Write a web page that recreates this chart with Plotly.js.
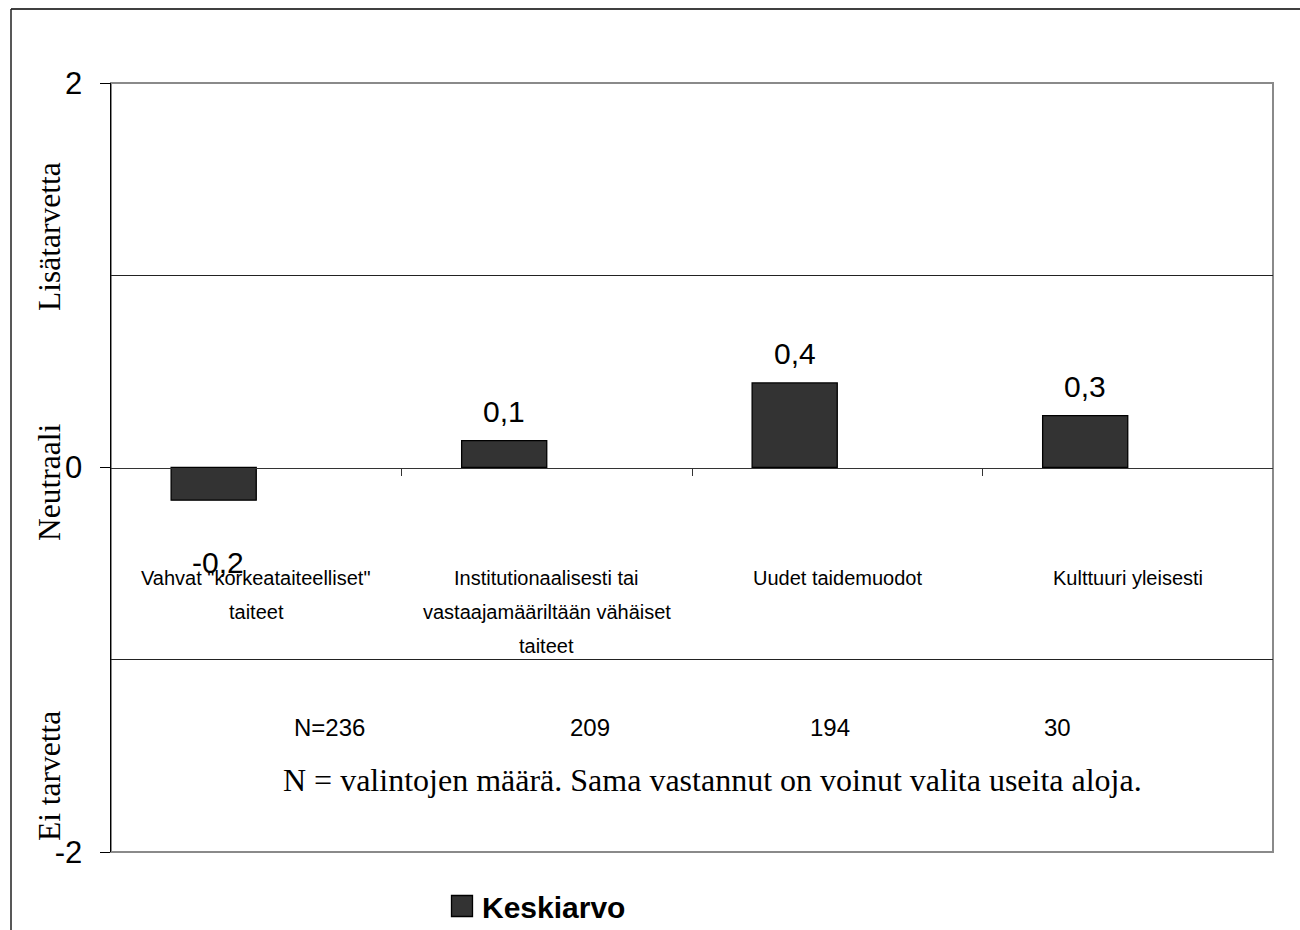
<!DOCTYPE html>
<html>
<head>
<meta charset="utf-8">
<script src="https://cdn.plot.ly/plotly-3.0.1.min.js"></script>
<style>html,body{margin:0;padding:0;background:#fff;}#chart{width:1300px;height:930px;}</style>
</head>
<body>
<div id="chart"></div>
<script>
// ---- data ----
const categories = [
  'Vahvat "korkeataiteelliset"<br>taiteet',
  'Institutionaalisesti tai<br>vastaajamääriltään vähäiset<br>taiteet',
  'Uudet taidemuodot',
  'Kulttuuri yleisesti'
];
const keskiarvo = [-0.17, 0.14, 0.44, 0.27];
const seriesName = 'Keskiarvo';
const nLabels = ['N=236', '209', '194', '30'];
const yTickVals = [-2, 0, 2];
const yTickText = ['-2', '0', '2'];
const scaleLabels = ['Lisätarvetta', 'Neutraali', 'Ei tarvetta'];
const footnote = 'N = valintojen määrä. Sama vastannut on voinut valita useita aloja.';

// ---- layout helpers ----
const WIDTH = 1300, HEIGHT = 930;
const M = {l: 111, r: 27, t: 83, b: 78, autoexpand: false};
const PW = WIDTH - M.l - M.r, PH = HEIGHT - M.t - M.b;
const fx = px => (px - M.l) / PW;
const fy = py => (HEIGHT - M.b - py) / PH;

const SANS = '"Liberation Sans", Arial, sans-serif';
const SERIF = '"Liberation Serif", "Times New Roman", serif';

const barWidth = 0.293, barOffset = -0.293;

const annotations = [];
// value labels
keskiarvo.forEach((v, i) => {
  annotations.push({
    x: i + barOffset + barWidth / 2, xref: 'x', y: v, yref: 'y',
    text: v.toFixed(1).replace('.', ','), showarrow: false,
    xanchor: 'center', yanchor: 'middle', yshift: v >= 0 ? 29 : -62,
    xshift: v >= 0 ? 0 : 4,
    font: {family: SANS, size: 30, color: '#000'}
  });
});
// category labels (inside plot, below zero line)
const catLineY = [578, 612, 646];
categories.forEach((c, i) => {
  c.split('<br>').forEach((line, j) => {
    annotations.push({
      x: i, xref: 'x', y: fy(catLineY[j]), yref: 'paper',
      text: line, showarrow: false, xanchor: 'center', yanchor: 'middle',
      font: {family: SANS, size: 20, color: '#000'}
    });
  });
});
// N labels
const nLabelX = [329, 590, 830, 1057];
nLabels.forEach((t, i) => {
  annotations.push({
    x: fx(nLabelX[i]), xref: 'paper', y: fy(727), yref: 'paper',
    text: t, showarrow: false, xanchor: 'center', yanchor: 'middle',
    font: {family: SANS, size: 24, color: '#000'}
  });
});
// footnote
annotations.push({
  x: fx(712), xref: 'paper', y: fy(780), yref: 'paper',
  text: footnote, showarrow: false, xanchor: 'center', yanchor: 'middle',
  font: {family: SERIF, size: 32, color: '#000'}
});
// scale labels (rotated)
const scaleY = [237, 483, 776];
scaleLabels.forEach((t, i) => {
  annotations.push({
    x: fx(49), xref: 'paper', y: fy(scaleY[i]), yref: 'paper',
    text: t, showarrow: false, textangle: -90, xanchor: 'center', yanchor: 'middle',
    font: {family: SERIF, size: 31.5, color: '#000'}
  });
});

const shapes = [
  // plot frame (gray)
  {type: 'rect', xref: 'paper', yref: 'paper', x0: 0, x1: 1, y0: 0, y1: 1,
   line: {color: '#8a8a8a', width: 2}, layer: 'below'},
  // outer chart frame: top and left edges
  {type: 'line', xref: 'paper', yref: 'paper', x0: fx(11), x1: fx(1300), y0: fy(9), y1: fy(9),
   line: {color: '#404040', width: 2}},
  {type: 'line', xref: 'paper', yref: 'paper', x0: fx(11), x1: fx(11), y0: fy(9), y1: fy(930),
   line: {color: '#202020', width: 1.5}}
];

const trace = {
  type: 'bar', x: [0, 1, 2, 3], y: keskiarvo, name: seriesName,
  width: barWidth, offset: barOffset,
  marker: {color: '#333333', line: {color: '#000', width: 1.3}},
  hoverinfo: 'y', showlegend: true
};

const layout = {
  width: WIDTH, height: HEIGHT,
  margin: M,
  paper_bgcolor: '#fff', plot_bgcolor: '#fff',
  showlegend: true,
  legend: {
    orientation: 'h', x: fx(442), xanchor: 'left', y: fy(906), yanchor: 'middle',
    font: {family: SANS, size: 30, color: '#000', weight: 'bold'},
    bgcolor: 'rgba(0,0,0,0)'
  },
  xaxis: {
    type: 'linear', range: [-0.5, 3.5], showticklabels: false,
    tickmode: 'array', tickvals: [0.5, 1.5, 2.5],
    ticks: 'outside', ticklen: 7, tickcolor: '#333', tickwidth: 1,
    showline: true, linecolor: '#333', linewidth: 1,
    showgrid: false, zeroline: false,
    anchor: 'free', position: 0.5, fixedrange: true
  },
  yaxis: {
    range: [-2, 2], tickmode: 'array', tickvals: yTickVals, ticktext: yTickText,
    ticks: 'outside', ticklen: 10, tickcolor: '#000', tickwidth: 1,
    ticklabelstandoff: 11,
    tickfont: {family: SANS, size: 31, color: '#000'},
    showline: true, linecolor: '#000', linewidth: 1.5,
    showgrid: false, zeroline: false,
    minor: {tickmode: 'array', tickvals: [-1, 1], showgrid: true, gridcolor: '#222', gridwidth: 1, ticks: ''},
    fixedrange: true
  },
  bargap: 0,
  annotations: annotations,
  shapes: shapes
};

Plotly.newPlot('chart', [trace], layout, {displayModeBar: false, staticPlot: true}).then(gd => {
  // enlarge legend swatch to match the reference square (keep Plotly's own offset)
  gd.querySelectorAll('.legend .legendpoints path').forEach(p => {
    p.setAttribute('d', 'M10.5,10.5H-10.5V-10.5H10.5Z');
  });
});
</script>
</body>
</html>
